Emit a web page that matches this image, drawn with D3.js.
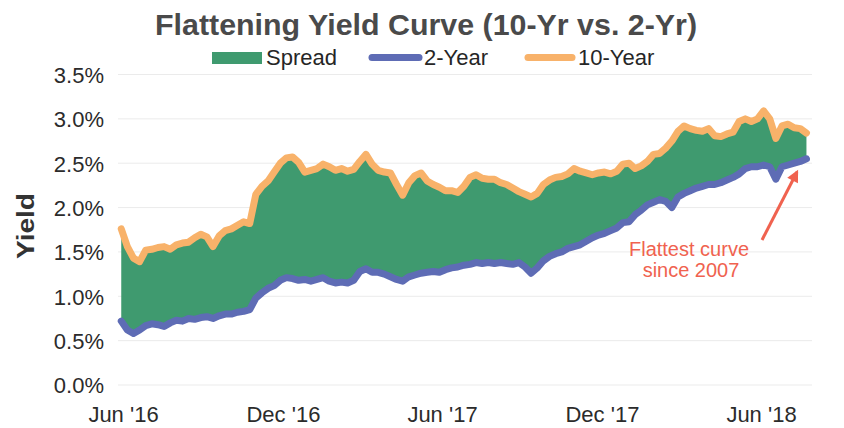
<!DOCTYPE html>
<html>
<head>
<meta charset="utf-8">
<script src="https://cdn.jsdelivr.net/npm/d3@7/dist/d3.min.js"></script>
<style>
  html, body { margin: 0; padding: 0; background: #ffffff; }
  svg { display: block; }
  text { font-family: "Liberation Sans", Arial, Helvetica, sans-serif; }
</style>
</head>
<body>
<svg id="chart" width="844" height="428"></svg>
<script>
// ---------- DATA ----------
const dates = [
"2016-05-30","2016-06-06","2016-06-13","2016-06-20","2016-06-27","2016-07-04","2016-07-11","2016-07-18","2016-07-25","2016-08-01",
"2016-08-08","2016-08-15","2016-08-22","2016-08-29","2016-09-05","2016-09-12","2016-09-19","2016-09-26","2016-10-03","2016-10-10",
"2016-10-17","2016-10-24","2016-10-31","2016-11-07","2016-11-14","2016-11-21","2016-11-28","2016-12-05","2016-12-12","2016-12-19",
"2016-12-26","2017-01-02","2017-01-09","2017-01-16","2017-01-23","2017-01-30","2017-02-06","2017-02-13","2017-02-20","2017-02-27",
"2017-03-06","2017-03-13","2017-03-20","2017-03-27","2017-04-03","2017-04-10","2017-04-17","2017-04-24","2017-05-01","2017-05-08",
"2017-05-15","2017-05-22","2017-05-29","2017-06-05","2017-06-12","2017-06-19","2017-06-26","2017-07-03","2017-07-10","2017-07-17",
"2017-07-24","2017-07-31","2017-08-07","2017-08-14","2017-08-21","2017-08-28","2017-09-04","2017-09-11","2017-09-18","2017-09-25",
"2017-10-02","2017-10-09","2017-10-16","2017-10-23","2017-10-30","2017-11-06","2017-11-13","2017-11-20","2017-11-27","2017-12-04",
"2017-12-11","2017-12-18","2017-12-25","2018-01-01","2018-01-08","2018-01-15","2018-01-22","2018-01-29","2018-02-05","2018-02-12",
"2018-02-19","2018-02-26","2018-03-05","2018-03-12","2018-03-19","2018-03-26","2018-04-02","2018-04-09","2018-04-16","2018-04-23",
"2018-04-30","2018-05-07","2018-05-14","2018-05-21","2018-05-28","2018-06-04","2018-06-11","2018-06-18","2018-06-25","2018-07-02",
"2018-07-09","2018-07-16","2018-07-23"
];

const tenYear = [
1.76,1.56,1.43,1.39,1.52,1.53,1.55,1.56,1.53,1.58,
1.60,1.61,1.66,1.70,1.67,1.56,1.68,1.74,1.76,1.80,
1.84,1.82,2.15,2.24,2.30,2.40,2.50,2.56,2.57,2.51,
2.40,2.42,2.44,2.49,2.46,2.42,2.44,2.41,2.43,2.52,
2.60,2.49,2.42,2.40,2.39,2.26,2.14,2.28,2.36,2.39,
2.30,2.26,2.23,2.19,2.19,2.17,2.24,2.34,2.37,2.33,
2.32,2.32,2.28,2.26,2.22,2.18,2.15,2.12,2.16,2.26,
2.31,2.34,2.35,2.38,2.44,2.41,2.39,2.37,2.39,2.40,
2.38,2.41,2.49,2.50,2.44,2.47,2.52,2.60,2.61,2.67,
2.75,2.86,2.92,2.89,2.87,2.86,2.89,2.81,2.80,2.83,
2.85,2.97,3.00,2.97,3.00,3.09,3.00,2.78,2.92,2.94,
2.90,2.89,2.84
];

const twoYear = [
0.72,0.62,0.58,0.62,0.67,0.69,0.68,0.66,0.70,0.73,
0.72,0.75,0.74,0.76,0.77,0.75,0.78,0.80,0.80,0.82,
0.83,0.85,0.98,1.04,1.09,1.12,1.18,1.21,1.20,1.18,
1.19,1.17,1.19,1.21,1.17,1.15,1.16,1.15,1.18,1.28,
1.31,1.27,1.27,1.25,1.22,1.19,1.17,1.22,1.24,1.26,
1.27,1.28,1.27,1.30,1.32,1.33,1.35,1.36,1.38,1.37,
1.38,1.37,1.38,1.37,1.36,1.38,1.33,1.26,1.32,1.40,
1.45,1.48,1.50,1.54,1.56,1.58,1.62,1.66,1.69,1.71,
1.74,1.77,1.83,1.84,1.92,1.97,2.03,2.06,2.09,2.07,
2.00,2.12,2.16,2.19,2.22,2.24,2.26,2.26,2.28,2.31,
2.34,2.38,2.44,2.46,2.46,2.48,2.46,2.32,2.46,2.48,
2.50,2.52,2.55
];

const yTicks = [0, 0.5, 1.0, 1.5, 2.0, 2.5, 3.0, 3.5];
const xTickDates = ["2016-06-01", "2016-12-01", "2017-06-01", "2017-12-01", "2018-06-01"];
const xTickLabels = ["Jun '16", "Dec '16", "Jun '17", "Dec '17", "Jun '18"];
const legendLabels = ["Spread", "2-Year", "10-Year"];
const titleText = "Flattening Yield Curve (10-Yr vs. 2-Yr)";
const yAxisTitle = "Yield";
const noteLines = ["Flattest curve", "since 2007"];

// ---------- STYLE ----------
const GREEN = "#3f9a6f", BLUE = "#5e6cb5", ORANGE = "#f8b26a", NOTE = "#f0624f";

const parse = d3.timeParse("%Y-%m-%d");
const rows = dates.map((d, i) => ({ date: parse(d), ten: tenYear[i], two: twoYear[i] }));

const svg = d3.select("#chart");

const x = d3.scaleTime()
  .domain([parse("2016-06-01"), parse("2018-06-01")])
  .range([123, 761]);
const y = d3.scaleLinear().domain([0, 3.5]).range([385, 74.5]);

// gridlines
svg.append("g").selectAll("line").data(yTicks).join("line")
  .attr("x1", 118).attr("x2", 812)
  .attr("y1", d => y(d)).attr("y2", d => y(d))
  .attr("stroke", "#ebebeb").attr("stroke-width", 1);

// y axis labels
const yAxis = d3.axisLeft(y).tickValues(yTicks).tickFormat(d => d3.format(".1f")(d) + "%").tickSize(0).tickPadding(0);
const gy = svg.append("g").attr("transform", "translate(104,0)").call(yAxis);
gy.select(".domain").remove();
gy.selectAll("text").attr("font-size", 22).attr("fill", "#2b2b2b")
  .attr("font-family", "Liberation Sans, Arial, sans-serif").attr("dy", "0.36em");

// x axis labels
const xAxis = d3.axisBottom(x).tickValues(xTickDates.map(parse))
  .tickFormat((d, i) => xTickLabels[i]).tickSize(0).tickPadding(0);
const gx = svg.append("g").attr("transform", "translate(0,405)").call(xAxis);
gx.select(".domain").remove();
gx.selectAll("text").attr("font-size", 22).attr("fill", "#2b2b2b")
  .attr("font-family", "Liberation Sans, Arial, sans-serif").attr("dy", "0.75em");

// spread area
const area = d3.area().x(d => x(d.date)).y0(d => y(d.two)).y1(d => y(d.ten));
svg.append("path").datum(rows).attr("d", area).attr("fill", GREEN);

// lines
const line2 = d3.line().x(d => x(d.date)).y(d => y(d.two));
const line10 = d3.line().x(d => x(d.date)).y(d => y(d.ten));
svg.append("path").datum(rows).attr("d", line2).attr("fill", "none")
  .attr("stroke", BLUE).attr("stroke-width", 7).attr("stroke-linejoin", "round").attr("stroke-linecap", "round");
svg.append("path").datum(rows).attr("d", line10).attr("fill", "none")
  .attr("stroke", ORANGE).attr("stroke-width", 7).attr("stroke-linejoin", "round").attr("stroke-linecap", "round");

// title
svg.append("text").attr("x", 426).attr("y", 35).attr("text-anchor", "middle")
  .attr("font-size", 30).attr("font-weight", "bold").attr("fill", "#4a4a4a")
  .attr("textLength", 542).attr("lengthAdjust", "spacingAndGlyphs")
  .text(titleText);

// legend
const lg = svg.append("g");
lg.append("rect").attr("x", 212).attr("y", 52).attr("width", 50).attr("height", 12).attr("fill", GREEN);
lg.append("text").attr("x", 266).attr("y", 65).attr("font-size", 22).attr("fill", "#262626").text(legendLabels[0]);
lg.append("line").attr("x1", 372).attr("x2", 419).attr("y1", 57.5).attr("y2", 57.5)
  .attr("stroke", BLUE).attr("stroke-width", 7).attr("stroke-linecap", "round");
lg.append("text").attr("x", 424).attr("y", 65).attr("font-size", 22).attr("fill", "#262626").text(legendLabels[1]);
lg.append("line").attr("x1", 528).attr("x2", 572).attr("y1", 57.5).attr("y2", 57.5)
  .attr("stroke", ORANGE).attr("stroke-width", 7).attr("stroke-linecap", "round");
lg.append("text").attr("x", 578).attr("y", 65).attr("font-size", 22).attr("fill", "#262626").text(legendLabels[2]);

// y axis title
svg.append("text").attr("transform", "translate(33.5,226) rotate(-90)")
  .attr("text-anchor", "middle").attr("font-size", 24).attr("font-weight", "bold")
  .attr("fill", "#333333").attr("textLength", 66).attr("lengthAdjust", "spacingAndGlyphs")
  .text(yAxisTitle);

// annotation
svg.append("defs").append("marker").attr("id", "arrowhead")
  .attr("viewBox", "0 0 10 10").attr("refX", 8).attr("refY", 5)
  .attr("markerWidth", 14).attr("markerHeight", 12).attr("markerUnits", "userSpaceOnUse")
  .attr("orient", "auto")
  .append("path").attr("d", "M0,0 L10,5 L0,10 Z").attr("fill", NOTE);
svg.append("line").attr("x1", 762).attr("y1", 240).attr("x2", 797).attr("y2", 172)
  .attr("stroke", NOTE).attr("stroke-width", 3).attr("marker-end", "url(#arrowhead)");
svg.append("text").attr("x", 689).attr("y", 256).attr("text-anchor", "middle")
  .attr("font-size", 20).attr("fill", NOTE).text(noteLines[0]);
svg.append("text").attr("x", 691).attr("y", 277).attr("text-anchor", "middle")
  .attr("font-size", 20).attr("fill", NOTE).text(noteLines[1]);
</script>
</body>
</html>
